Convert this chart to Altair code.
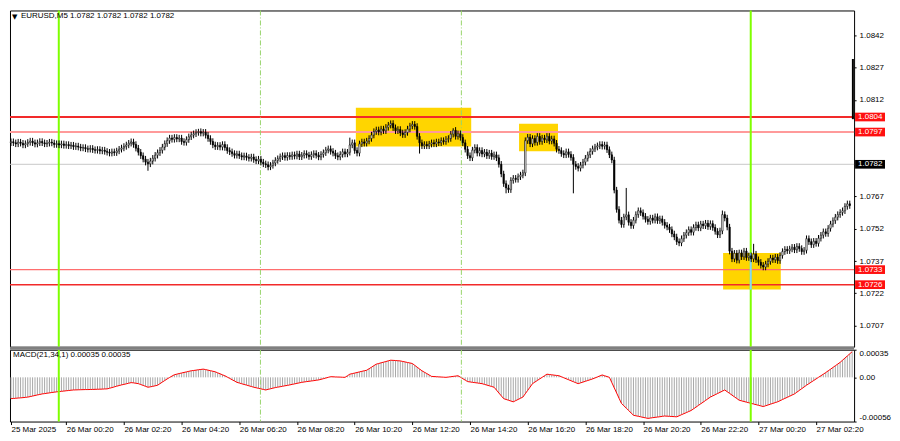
import altair as alt
import pandas as pd

W, H_MAIN, H_MACD = 846, 337, 72
X_DOMAIN = [-0.4, 350.8]
Y_DOMAIN = [1.069714, 1.085356]
M_DOMAIN = [-0.00056, 0.00035]
BASE = 1.07
FONT = "Liberation Sans"

# ---- EURUSD M5 closes, in pips above 1.0700 (bar 0 = 25 Mar 22:25) ----
first_open = 92.0
close_a = [92.5, 92.0, 91.5, 92.3, 91.8, 91.0, 91.6, 92.2, 92.8, 92.0, 91.4, 92.0,
           92.6, 92.0, 91.5, 91.8, 92.3, 91.9, 91.2, 91.6,
           91.0, 91.5, 90.8, 91.2, 90.6, 90.9, 90.2, 90.5,
           90.0, 89.6, 89.8, 89.2, 89.0, 89.4, 88.8, 88.5, 88.9, 88.2, 88.6, 88.0,
           87.6, 87.2, 87.8, 87.4,
           88.2, 89.0, 89.6, 90.3,
           91.0, 91.8, 92.4, 91.2,
           89.5, 87.6, 86.0, 84.4, 83.0, 82.2,
           83.5, 84.8, 86.2, 87.4, 88.5,
           90.0, 91.6, 93.0, 94.2,
           93.6, 94.5, 93.8, 94.2,
           92.6, 92.2, 93.5, 94.8,
           95.6, 96.2, 96.8, 97.2, 96.5, 96.9,
           95.5, 94.0, 92.6, 91.0, 90.2,
           90.8, 90.0, 91.2, 89.8, 88.4]
close_b = [87.8, 87.0, 86.2, 86.8, 86.0, 85.4, 85.9, 85.2, 84.8, 85.4,
           84.2, 83.6, 84.4, 83.0, 82.2, 81.8, 80.8, 81.5,
           82.6, 83.8, 84.6, 85.5, 86.0, 85.2, 86.1,
           85.6, 86.4, 85.8, 86.8, 85.5, 86.2, 87.0, 86.3, 85.6, 86.5, 87.0, 86.2, 85.4, 86.6,
           87.4, 88.6, 89.2, 88.0,
           87.2, 86.0, 85.4, 86.6, 87.8, 86.8, 87.6, 91.0,
           92.0, 88.4, 87.2,
           91.5, 92.4, 91.8, 92.8,
           94.0, 95.6, 97.2, 98.0,
           97.0, 98.4, 97.6, 99.2,
           100.2, 101.0,
           99.0, 97.6, 98.2, 96.6, 95.8, 96.8,
           98.4, 99.8, 100.6, 99.6,
           95.0, 92.0, 90.6,
           91.2, 90.6, 91.4, 92.0, 91.5, 92.4, 92.0, 93.0, 92.6, 93.6, 94.0]
close_c = [96.0, 97.8, 95.0, 96.2, 94.5,
           92.0, 89.0, 86.0, 85.0,
           88.6, 89.8, 87.2, 88.4, 86.8, 87.6, 86.0, 87.2, 85.6, 86.4, 85.0,
           82.0, 77.5, 73.0, 71.0, 70.2,
           74.5, 75.5, 75.0, 76.2, 77.0, 78.0,
           93.0, 94.6, 91.5, 94.0, 92.2, 95.0, 92.6, 94.2, 93.4, 95.0, 92.8, 93.8, 91.8,
           89.0, 88.4, 87.0, 86.4, 87.8, 86.6, 85.2,
           82.0, 81.0, 80.2, 81.6,
           83.0, 84.8, 86.4, 88.0, 89.2, 90.0,
           90.6, 91.2, 90.4, 91.0,
           88.8, 86.4, 84.0,
           70.0, 61.0,
           56.0, 54.0, 57.5,
           58.5,
           55.0, 53.5, 56.0,
           58.6, 60.4, 59.5, 57.8,
           56.4, 55.4, 57.0, 56.0, 57.6, 55.8, 56.6]
close_d = [55.0, 53.6, 52.8, 51.6,
           49.6, 48.2,
           46.0, 45.4,
           47.4, 49.0, 50.2, 51.6, 50.4,
           52.6, 53.8, 52.4, 54.2, 53.4, 54.6, 53.0, 54.4,
           52.6, 50.8, 49.2, 51.0,
           58.6, 57.0,
           52.8,
           41.6,
           38.0, 40.6, 37.4,
           40.8, 39.0, 41.6, 38.6,
           39.4, 38.0, 40.2, 37.6,
           36.4, 35.0, 34.2, 35.6,
           36.8, 38.4, 37.6, 38.8, 37.2,
           39.6, 41.4, 42.4, 41.8,
           42.6, 43.4, 42.2, 43.8, 42.8, 41.4, 42.0,
           47.4, 46.0,
           44.6, 46.2, 45.2,
           47.6, 49.0, 50.6, 49.8, 52.2,
           54.2, 55.8, 57.4, 58.6, 59.6, 60.4,
           62.4, 63.6, 62.8]
wick_pad = 1.5
wick_hi = {50: 94.0, 78: 98.5, 141: 94.4, 158: 102.4, 184: 98.8, 256: 71.0, 296: 60.5, 309: 45.0}
wick_lo = {57: 79.0, 107: 79.2, 170: 87.0, 206: 68.5, 234: 68.5}

spike_i = [350.3]
spike_lo = [1.0803]
spike_hi = [1.0831]

# ---- MACD(21,34,1), units of 1e-5 ----
macd_vals = [
    -27, -26.8, -26.5, -26.2, -26, -25.7, -25.4, -25,
    -24.4, -23.7, -23, -22.3, -21.7, -21,
    -20.6, -20.1, -19.7, -19.2, -18.8, -18.4, -18,
    -17.7, -17.4, -17, -16.7, -16.3, -16,
    -15.9, -15.8, -15.7, -15.6, -15.5, -15.5, -15.4,
    -15.3, -15.2, -15.1, -15, -14.9, -14.7, -14.6,
    -13.8, -13, -12.1, -11.2, -10.4,
    -9.6, -8.9, -8.2, -7.4, -6.7,
    -7, -7.5, -8,
    -9.1, -10.2, -11.4, -12.5,
    -12, -11.4, -10.7, -10,
    -8, -6, -4, -2,
    -0.2, 1.6, 3.3,
    4, 4.8, 5.5, 6.2, 6.9, 7.6, 8.3,
    8.7, 9.1, 9.6, 10, 10.4,
    9.8, 9.1, 8.4, 7.7, 7,
    5.7, 4.5, 3.2, 2,
    0.3, -1.3, -3, -4.6, -6.3,
    -7.2, -8.1, -9, -9.8, -10.7, -11.6, -12.5,
    -13.2, -13.9, -14.6, -15.3, -16,
    -15.2, -14.5, -13.7, -13,
    -12.4, -11.9, -11.3, -10.7, -10.2, -9.6,
    -8.9, -8.3, -7.6, -7, -6.3,
    -5.9, -5.4, -5, -4.6, -4.2, -3.7, -3.3,
    -2.5, -1.7, -0.9, 0, 0.8,
    0.7, 0.5, 0.4, 0.3, 0.1, 0,
    2, 4,
    4.7, 5.4, 6.1, 6.9, 7.6, 8.3, 9,
    10.9, 12.8, 14.8, 16.7,
    17.5, 18.4, 19.2, 20, 20.9, 21.7,
    21.5, 21.3, 21, 20.8,
    20.1, 19.5, 18.8, 18.2, 17.5,
    15.2, 12.9, 10.6, 8.3,
    6.5, 4.8, 3, 1.2,
    1, 0.8, 0.6, 0.4, 0.2, 0,
    0.4, 0.8, 1.2, 1.6, 2,
    0.2, -1.7, -3.5, -5.4,
    -5.8, -6.3, -6.7, -7.1, -7.6, -8,
    -8.9, -9.8, -10.7, -11.6, -12.5,
    -16.1, -19.8, -23.4, -27,
    -28, -29, -30, -31,
    -29.5, -28, -26.5, -25,
    -20.8, -16.5, -12.3, -8,
    -6, -4, -2, 0, 2, 4,
    3.6, 3.2, 2.8, 2.4, 2,
    0.8, -0.5, -1.8, -3, -4.3, -5.5, -6.8, -8,
    -7, -6, -5, -4, -3, -2,
    -0.8, 0.5, 1.8, 3,
    2, 1, 0,
    -6.6, -13.2, -19.8, -26.4, -33,
    -36, -39, -42, -45, -48,
    -48.7, -49.3, -50, -50.7, -51.3, -52,
    -51.6, -51.1, -50.7, -50.3, -49.9, -49.4, -49,
    -49.2, -49.4, -49.6, -49.8, -50,
    -48.7, -47.3, -46, -44.7, -43.3, -42,
    -39.9, -37.8, -35.6, -33.5, -31.4, -29.3, -27.1, -25,
    -23.5, -22, -20.5, -19, -17.5, -16,
    -18.2, -20.3, -22.5, -24.7, -26.8, -29,
    -29.8, -30.6, -31.4, -32.2, -33,
    -33.8, -34.6, -35.4, -36.2, -37,
    -36, -35, -34, -33, -32, -31,
    -29.6, -28.1, -26.7, -25.3, -23.9, -22.4, -21,
    -18.8, -16.6, -14.4, -12.2, -10,
    -8, -6, -4, -2,
    0, 2, 4, 6,
    8.2, 10.3, 12.5, 14.7, 16.8, 19,
    21.7, 24.4, 27.1, 29.8, 32.5,
]

# ---- annotations ----
box_i0 = [143.5, 211.4, 296.3]
box_i1 = [191.5, 227.6, 320.3]
box_lo = [1.07903, 1.07881, 1.07237]
box_hi = [1.08083, 1.08009, 1.07407]

level_vals = [1.0804, 1.0797, 1.0782, 1.0733, 1.0726]
level_colors = ["#f22a2a", "#ff9a9a", "#c8c8c8", "#ff6e6e", "#f22a2a"]
level_widths = [2.0, 2.0, 1.0, 1.2, 1.6]
tag_fills = ["#ff1010", "#ff1010", "#000000", "#ff1010", "#ff1010"]

vsolid_i = [19.9, 307.8]
vdash_i = [103.8, 187.4]

price_ticks = [1.0842, 1.0827, 1.0812, 1.0767, 1.0752, 1.0737, 1.0722, 1.0707]
macd_ticks = [0.00035, 0.0, -0.00056]
macd_tick_text = ["0.00035", "0.00", "-0.00056"]
time_tick_idx = [0, 23, 47, 71, 95, 119, 143, 167, 191, 215, 239, 263, 287, 311, 335]
time_tick_text = ["25 Mar 2025", "26 Mar 00:20", "26 Mar 02:20", "26 Mar 04:20", "26 Mar 06:20",
                  "26 Mar 08:20", "26 Mar 10:20", "26 Mar 12:20", "26 Mar 14:20", "26 Mar 16:20",
                  "26 Mar 18:20", "26 Mar 20:20", "26 Mar 22:20", "27 Mar 00:20", "27 Mar 02:20"]

header_text = "EURUSD,M5  1.0782 1.0782 1.0782 1.0782"
macd_header = "MACD(21,34,1) 0.00035 0.00035"

# ---- build tables ----
closes = close_a + close_b + close_c + close_d
rows = []
prev = first_open
for i, c in enumerate(closes):
    o = prev
    h = wick_hi.get(i, max(o, c) + wick_pad)
    lo = wick_lo.get(i, min(o, c) - wick_pad)
    rows.append({"i": i, "xl": i - 0.3, "xr": i + 0.3,
                 "o": BASE + o / 1e4, "c": BASE + c / 1e4,
                 "h": BASE + h / 1e4, "l": BASE + lo / 1e4,
                 "fill": "#ffffff" if c >= o else "#000000"})
    prev = c
cdf = pd.DataFrame(rows)

mdf = pd.DataFrame({"i": list(range(len(macd_vals))),
                    "v": [m * 1e-5 for m in macd_vals]})
mdf["z"] = 0.0

boxes = pd.DataFrame({"x0": box_i0, "x1": box_i1, "p0": box_lo, "p1": box_hi})
levels = pd.DataFrame({"v": level_vals, "col": level_colors, "w": level_widths,
                       "tag": tag_fills, "t": [f"{v:.4f}" for v in level_vals]})
vs = pd.DataFrame({"i": vsolid_i})
vd = pd.DataFrame({"i": vdash_i})
over = pd.DataFrame({"i": [vsolid_i[1]], "p0": [box_lo[2]], "p1": [box_hi[2]]})
spike = pd.DataFrame({"i": spike_i, "lo": spike_lo, "hi": spike_hi})

xs = alt.Scale(domain=X_DOMAIN, nice=False, zero=False)
ys = alt.Scale(domain=Y_DOMAIN, nice=False, zero=False)
ms = alt.Scale(domain=M_DOMAIN, nice=False, zero=False)

# identical axis definitions are used in every layer, so they merge cleanly
Y_AXIS = alt.Axis(orient="right", values=price_ticks, format=".4f", title=None,
                  tickSize=2, labelPadding=3)
idx_js = "[" + ",".join(str(v) for v in time_tick_idx) + "]"
lab_js = "[" + ",".join("'" + s + "'" for s in time_tick_text) + "]"
x_expr = f"{lab_js}[indexof({idx_js}, datum.value)]"
mv_js = "[" + ",".join(repr(v) for v in macd_ticks) + "]"
mt_js = "[" + ",".join("'" + s + "'" for s in macd_tick_text) + "]"
m_expr = f"{mt_js}[indexof({mv_js}, datum.value)]"
XM_AXIS = alt.Axis(values=time_tick_idx, labelExpr=x_expr, labelAlign="left", tickSize=3,
                   labelPadding=1, title=None, labelOverlap=False, labelFlush=False)
YM_AXIS = alt.Axis(orient="right", values=macd_ticks, labelExpr=m_expr, title=None,
                   tickSize=2, labelPadding=3, labelFlush=True)


def X(f):
    return alt.X(f, type="quantitative", scale=xs, axis=None)


def Y(f):
    return alt.Y(f, type="quantitative", scale=ys, axis=Y_AXIS)


def XM(f):
    return alt.X(f, type="quantitative", scale=xs, axis=XM_AXIS)


def M(f):
    return alt.Y(f, type="quantitative", scale=ms, axis=YM_AXIS)


# ---- main panel ----
l_boxes = alt.Chart(boxes).mark_rect(color="#ffd500").encode(
    x=X("x0"), x2="x1", y=Y("p0"), y2="p1")
l_levels = alt.Chart(levels).mark_rule().encode(
    y=Y("v"),
    color=alt.Color("col:N", scale=None),
    strokeWidth=alt.StrokeWidth("w:Q", scale=None))
l_vs = alt.Chart(vs).mark_rule(color="#7fff00", strokeWidth=2).encode(x=X("i"))
l_vd = alt.Chart(vd).mark_rule(color="#98d46a", strokeWidth=1, strokeDash=[5, 2, 1, 2]).encode(x=X("i"))
l_over = alt.Chart(over).mark_rule(color="#8fd3f5", strokeWidth=2).encode(x=X("i"), y=Y("p0"), y2="p1")
l_wick = alt.Chart(cdf).mark_rule(color="#000000", strokeWidth=1).encode(x=X("i"), y=Y("l"), y2="h")
l_body = alt.Chart(cdf).mark_rect(stroke="#000000", strokeWidth=0.6).encode(
    x=X("xl"), x2="xr", y=Y("o"), y2="c", fill=alt.Fill("fill:N", scale=None))
l_spike = alt.Chart(spike).mark_rule(color="#000000", strokeWidth=2).encode(x=X("i"), y=Y("lo"), y2="hi")
l_tri = alt.Chart(pd.DataFrame({"t": ["▼"]})).mark_text(
    align="left", baseline="top", font="DejaVu Sans", fontSize=7, color="#000000").encode(
    x=alt.value(2), y=alt.value(3), text="t:N")
l_head = alt.Chart(pd.DataFrame({"t": [header_text]})).mark_text(
    align="left", baseline="top", font=FONT, fontSize=8, color="#000000").encode(
    x=alt.value(11), y=alt.value(2), text="t:N")
tag_shape = "M-1,-0.29L1,-0.29L1,0.29L-1,0.29Z"
l_tagbox = alt.Chart(levels).mark_point(shape=tag_shape, filled=True, size=900, strokeWidth=0, opacity=1).encode(
    x=alt.value(W + 16), y=Y("v"), fill=alt.Fill("tag:N", scale=None))
l_tagtxt = alt.Chart(levels).mark_text(
    align="left", baseline="middle", font=FONT, fontSize=8, color="#ffffff").encode(
    x=alt.value(W + 4), y=Y("v"), text="t:N")

main = alt.layer(l_boxes, l_levels, l_vs, l_vd, l_over, l_wick, l_body, l_spike,
                 l_tri, l_head, l_tagbox, l_tagtxt).properties(width=W, height=H_MAIN)

# ---- MACD panel ----
m_hist = alt.Chart(mdf).mark_rule(color="#a8a8a8", strokeWidth=1).encode(
    x=XM("i"), y=M("v"), y2="z")
m_line = alt.Chart(mdf).mark_line(color="#ff0000", strokeWidth=1).encode(x=XM("i"), y=M("v"))
m_vs = alt.Chart(vs).mark_rule(color="#7fff00", strokeWidth=2).encode(x=XM("i"))
m_vd = alt.Chart(vd).mark_rule(color="#98d46a", strokeWidth=1, strokeDash=[5, 2, 1, 2]).encode(x=XM("i"))
m_sep = alt.Chart(pd.DataFrame({"a": [0]})).mark_rule(color="#808080", strokeWidth=3).encode(
    x=alt.value(0), x2=alt.value(W), y=alt.value(-1.5))
m_head = alt.Chart(pd.DataFrame({"t": [macd_header]})).mark_text(
    align="left", baseline="middle", font=FONT, fontSize=8, color="#000000").encode(
    x=alt.value(3), y=alt.value(5), text="t:N")

macd = alt.layer(m_hist, m_line, m_vs, m_vd, m_sep, m_head).properties(width=W, height=H_MACD)

chart = alt.vconcat(main, macd, spacing=3, bounds="flush", padding=0).configure_view(
    stroke="#000000", strokeWidth=1
).configure_axis(
    labelFont=FONT, labelFontSize=8, labelColor="#000000", tickColor="#000000",
    domain=False, grid=False
)

chart.save("out.html", embed_options={"renderer": "svg", "actions": False})
